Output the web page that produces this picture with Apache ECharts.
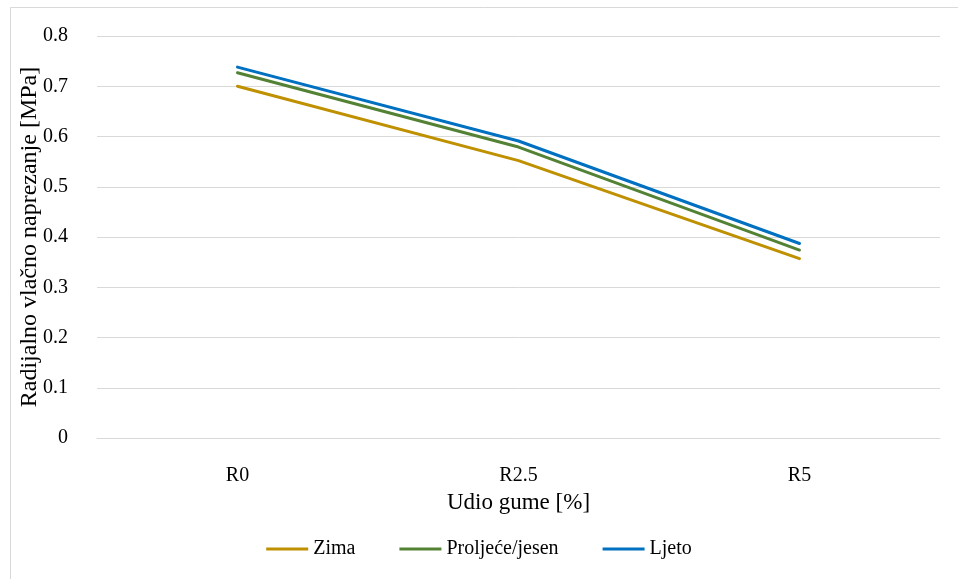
<!DOCTYPE html>
<html>
<head>
<meta charset="utf-8">
<script src="https://cdn.jsdelivr.net/npm/echarts@6/dist/echarts.min.js"></script>
<style>
  html, body { margin: 0; padding: 0; background: #fff; }
  #chart { width: 958px; height: 579px; }
</style>
</head>
<body>
<div id="chart"></div>
<script>
// data
const categories = ['R0', 'R2.5', 'R5'];
const zima = [0.70, 0.552, 0.357];
const proljeceJesen = [0.727, 0.579, 0.374];
const ljeto = [0.738, 0.591, 0.387];
const yTicks = [0, 0.1, 0.2, 0.3, 0.4, 0.5, 0.6, 0.7, 0.8];

const FONT = '"Liberation Serif", "Times New Roman", serif';
const chart = echarts.init(document.getElementById('chart'), null, { renderer: 'canvas' });

function line(name, data, color) {
  return {
    name: name,
    type: 'line',
    data: data,
    symbol: 'none',
    lineStyle: { width: 3, color: color, cap: 'round' },
    itemStyle: { color: color },
    animation: false
  };
}

const option = {
  backgroundColor: '#fff',
  textStyle: { fontFamily: FONT },
  graphic: [{
    type: 'rect',
    shape: { x: 10.5, y: 7.5, width: 960, height: 600 },
    style: { fill: 'none', stroke: '#d9d9d9', lineWidth: 1 },
    silent: true
  }],
  grid: { left: 97, right: 18, top: 36, bottom: 141, containLabel: false },
  legend: {
    top: 534,
    left: 'center',
    itemWidth: 42,
    itemHeight: 3,
    itemGap: 44,
    icon: 'rect',
    textStyle: { fontFamily: FONT, fontSize: 20, color: '#000' },
    data: ['Zima', 'Proljeće/jesen', 'Ljeto']
  },
  xAxis: {
    type: 'category',
    data: categories,
    boundaryGap: true,
    name: 'Udio gume [%]',
    nameLocation: 'middle',
    nameGap: 53,
    nameMoveOverlap: false,
    nameTextStyle: { fontFamily: FONT, fontSize: 23, color: '#000' },
    axisLine: { show: true, lineStyle: { color: '#d9d9d9', width: 1 } },
    axisTick: { show: false },
    axisLabel: { fontFamily: FONT, fontSize: 20, color: '#000', margin: 28 }
  },
  yAxis: {
    type: 'value',
    min: yTicks[0],
    max: yTicks[yTicks.length - 1],
    interval: 0.1,
    name: 'Radijalno vlačno naprezanje [MPa]',
    nameLocation: 'middle',
    nameGap: 55,
    nameMoveOverlap: false,
    nameTextStyle: { fontFamily: FONT, fontSize: 24, color: '#000' },
    axisLine: { show: false },
    axisTick: { show: false },
    axisLabel: {
      fontFamily: FONT, fontSize: 20, color: '#000', margin: 29,
      formatter: v => String(Math.round(v * 10) / 10)
    },
    splitLine: { lineStyle: { color: '#d9d9d9', width: 1 } }
  },
  series: [
    line('Zima', zima, '#BF9000'),
    line('Proljeće/jesen', proljeceJesen, '#548235'),
    line('Ljeto', ljeto, '#0070C0')
  ]
};

chart.setOption(option);
</script>
</body>
</html>
